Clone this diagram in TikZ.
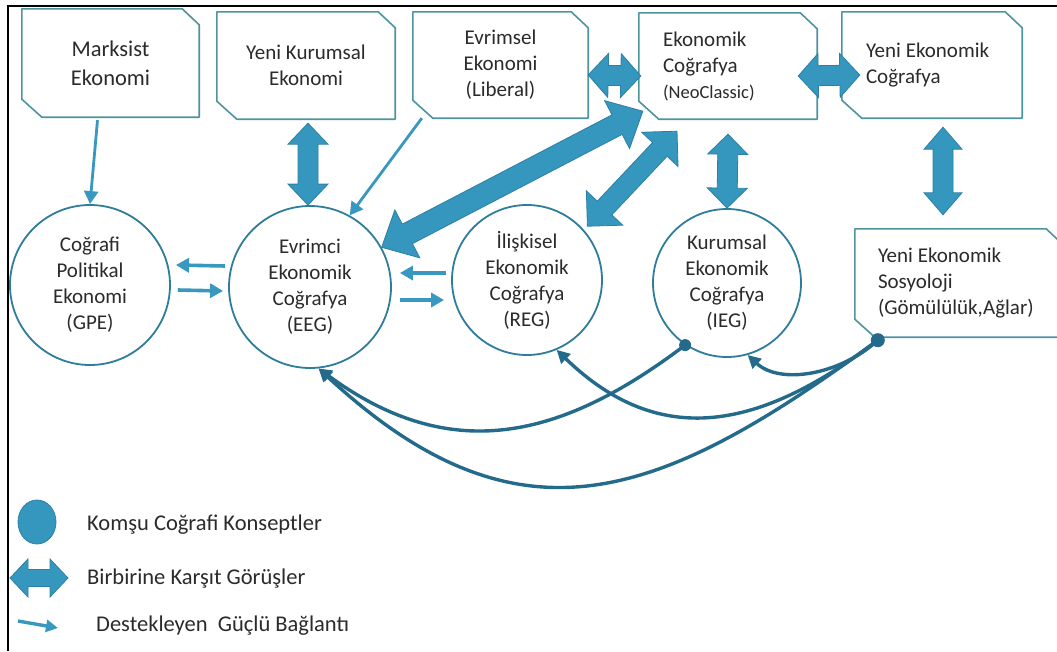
\documentclass[tikz,border=0pt]{standalone}
\usepackage{fontspec}
\setmainfont{Carlito}
\usetikzlibrary{calc,arrows.meta}
\definecolor{boxline}{HTML}{4E949E}
\definecolor{circline}{HTML}{2E7D9A}
\definecolor{fatfill}{HTML}{3596BE}
\definecolor{fatline}{HTML}{2C80A5}
\definecolor{suppc}{HTML}{3898C0}
\definecolor{darkc}{HTML}{246A8A}
\definecolor{txt}{HTML}{2B2B2B}
\newcommand{\fatarr}[5]{%
  \coordinate (fa1) at ($(#1)!#5!(#2)$);
  \coordinate (fa2) at ($(#2)!#5!(#1)$);
  \filldraw[fill=fatfill, draw=fatline, line width=0.8pt, line join=miter]
  (#1) -- ($(fa1)!#4!90:(#2)$) -- ($(fa1)!#3!90:(#2)$) -- ($(fa2)!#3!-90:(#1)$)
  -- ($(fa2)!#4!-90:(#1)$) -- (#2) -- ($(fa2)!#4!90:(#1)$) -- ($(fa2)!#3!90:(#1)$)
  -- ($(fa1)!#3!-90:(#2)$) -- ($(fa1)!#4!-90:(#2)$) -- cycle;}
\begin{document}
\begin{tikzpicture}[x=1pt,y=-1pt,
  snipbox/.style={rectangle, inner sep=0pt, text=txt, font=\fontsize{21}{26}\selectfont, align=flush center},
  concept/.style={circle, draw=circline, line width=1.8pt, text=txt, font=\fontsize{21}{26}\selectfont, align=flush center, inner sep=0pt},
  supp/.style={draw=suppc, line width=3.6pt, -{Triangle[length=13pt,width=14pt]}},
  curv/.style={draw=darkc, line width=3.4pt, -{Triangle[length=13pt,width=13pt]}},
  legtext/.style={anchor=west, inner sep=0pt, text=txt, font=\fontsize{22.5}{26}\selectfont}]
\useasboundingbox (0,0) rectangle (1057,651);
\fill[white] (0,0) rectangle (1057,651);

% frame
\draw[black, line width=1.6pt] (8,651) -- (8,6);
\draw[black, line width=2.4pt] (7,6) -- (1057,6);

% top boxes
\node[snipbox, minimum width=177pt, minimum height=108pt, font=\fontsize{22.5}{29}\selectfont] (mark) at (110.5,63) {Marksist\\Ekonomi};
\node[snipbox, minimum width=178pt, minimum height=107pt] (yk) at (306,65.5) {Yeni Kurumsal\\Ekonomi};
\node[snipbox, minimum width=175pt, minimum height=106pt] (evr) at (500.5,65) {Evrimsel\\Ekonomi\\(Liberal)};
\node[snipbox, minimum width=178pt, minimum height=106pt, text width=130pt, align=flush left] (eko) at (728,66) {Ekonomik\\Coğrafya\\{\fontsize{18.5}{25}\selectfont (NeoClassic)}};
\node[snipbox, minimum width=180pt, minimum height=106pt, text width=132pt, align=flush left] (yec) at (932,65) {Yeni Ekonomik\\Coğrafya};
\node[snipbox, minimum width=208pt, minimum height=108pt, text width=162pt, align=flush left] (soz) at (959,283) {Yeni Ekonomik\\Sosyoloji\\(Gömülülük,Ağlar)};
\foreach \n in {mark,yk,evr,eko,yec,soz}
  \draw[boxline, line width=1.6pt, line join=round] (\n.north west) -- ([xshift=-17pt]\n.north east) -- ([yshift=-16pt]\n.north east)
    -- (\n.south east) -- ([xshift=20pt]\n.south west) -- ([yshift=18pt]\n.south west) -- cycle;

% concept circles
\node[concept, minimum size=160pt] (gpe) at (90,285) {Coğrafi\\Politikal\\Ekonomi\\(GPE)};
\node[concept, minimum size=162pt] (eeg) at (310,287) {Evrimci\\Ekonomik\\Coğrafya\\(EEG)};
\node[concept, minimum size=150pt] (reg) at (527,280) {İlişkisel\\Ekonomik\\Coğrafya\\(REG)};
\node[concept, minimum size=148pt] (ieg) at (727,283) {Kurumsal\\Ekonomik\\Coğrafya\\(IEG)};

% opposing views (fat double arrows)
\coordinate (f1a) at ([shift={(2pt,-4pt)}]yk.south);
\coordinate (f1b) at ([xshift=-2pt]eeg.north);
\fatarr{f1a}{f1b}{10pt}{20pt}{21pt}
\coordinate (f2a) at ([yshift=-10pt]evr.east);
\coordinate (f2b) at ([shift={(2pt,-10pt)}]eko.west);
\fatarr{f2a}{f2b}{10pt}{22pt}{20pt}
\coordinate (f3a) at ([shift={(-19pt,-10pt)}]eko.east);
\coordinate (f3b) at ([shift={(18pt,-10pt)}]yec.west);
\fatarr{f3a}{f3b}{10pt}{22pt}{20pt}
\coordinate (f4a) at (eeg.29);
\coordinate (f4b) at ([shift={(4pt,8pt)}]eko.south west);
\fatarr{f4a}{f4b}{11pt}{27pt}{29pt}
\coordinate (f5a) at ([shift={(4pt,3pt)}]reg.42);
\coordinate (f5b) at ([shift={(-51pt,-12pt)}]eko.south);
\fatarr{f5a}{f5b}{10pt}{25pt}{25pt}
\coordinate (f6a) at ([yshift=-15pt]eko.south);
\coordinate (f6b) at (ieg.north);
\fatarr{f6a}{f6b}{10pt}{20pt}{20pt}
\coordinate (f7a) at ([shift={(11pt,-9pt)}]yec.south);
\coordinate (f7b) at ([shift={(-16pt,14pt)}]soz.north);
\fatarr{f7a}{f7b}{10pt}{19pt}{22pt}

% supporting links
\coordinate (t1a) at ([shift={(-13pt,-3pt)}]mark.south);
\draw[supp, line width=2.8pt] (t1a) -- (gpe.north);
\coordinate (t2a) at ([xshift=9pt]evr.south west);
\draw[supp, line width=2.8pt] (t2a) -- (eeg.61);
\coordinate (t3a) at ([shift={(-3pt,21pt)}]eeg.west);
\coordinate (t3b) at ([shift={(5pt,20pt)}]gpe.east);
\draw[supp] (t3a) -- (t3b);
\coordinate (t4a) at ([shift={(7pt,-5pt)}]gpe.east);
\coordinate (t4b) at ([shift={(-5pt,-4pt)}]eeg.west);
\draw[supp] (t4a) -- (t4b);
\coordinate (t5a) at ([shift={(-5pt,7pt)}]reg.west);
\coordinate (t5b) at ([shift={(8pt,14pt)}]eeg.east);
\draw[supp] (t5a) -- (t5b);
\coordinate (t6a) at ([shift={(8pt,-13pt)}]eeg.east);
\coordinate (t6b) at ([shift={(-7pt,-20pt)}]reg.west);
\draw[supp] (t6a) -- (t6b);

% neighbouring concepts (dark curves)
\coordinate (idot) at (ieg.236);
\coordinate (sdot) at ([shift={(23pt,-3pt)}]soz.south west);
\draw[curv] (idot) .. controls (560,440) and (450,465) .. (eeg.-84);
\draw[curv] (sdot) .. controls (660,500) and (520,555) .. (eeg.-84);
\draw[curv] (sdot) .. controls (760,430) and (660,450) .. (reg.-67);
\draw[curv] (sdot) .. controls (840,375) and (780,385) .. (ieg.-74);
\fill[darkc] (idot) circle (6pt);
\fill[darkc] (sdot) circle (7pt);

% legend
\filldraw[fill=fatfill, draw=fatline, line width=0.8pt] (37,522) ellipse [x radius=19pt, y radius=22pt];
\node[legtext] (l1) at (87,525) {Komşu Coğrafi Konseptler};
\coordinate (la) at (10,578);
\coordinate (lb) at (68,578);
\fatarr{la}{lb}{8.5pt}{19pt}{18pt}
\node[legtext] (l2) at (87,579) {Birbirine Karşıt Görüşler};
\coordinate (lt1) at (18,621);
\coordinate (lt2) at (58,628);
\draw[supp, line width=3.4pt, -{Triangle[length=12pt,width=12pt]}] (lt1) -- (lt2);
\node[legtext] (l3) at (96,626) {Destekleyen\ \ Güçlü Bağlantı};
\end{tikzpicture}
\end{document}
